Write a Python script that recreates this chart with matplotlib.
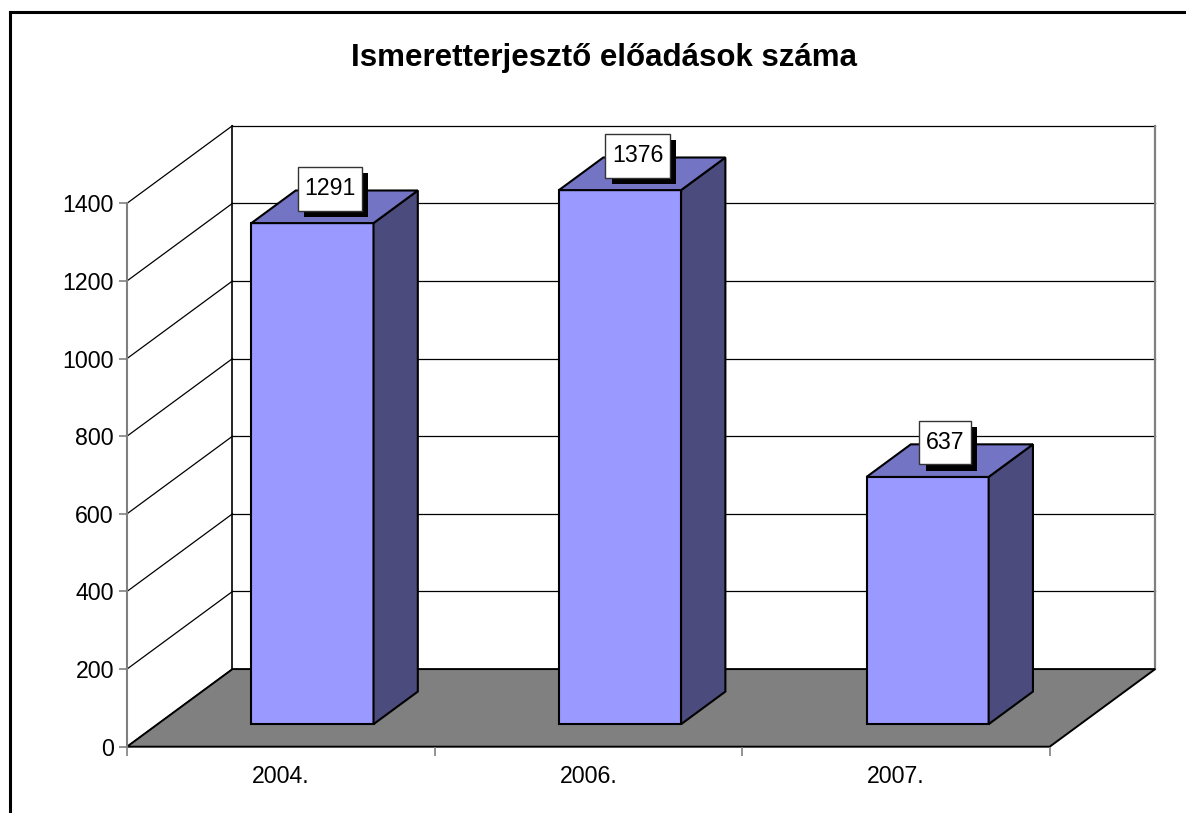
import matplotlib
matplotlib.use("Agg")
import matplotlib.pyplot as plt
from matplotlib.patches import Polygon
from matplotlib.lines import Line2D
import matplotlib.patheffects as pe

plt.rcParams['font.family'] = ['Liberation Sans', 'DejaVu Sans']

# data
years = ['2004.', '2006.', '2007.']
counts = [1291, 1376, 637]
y_ticks = [0, 200, 400, 600, 800, 1000, 1200, 1400]
title = 'Ismeretterjesztő előadások száma'

# 3d look (offset of the back plane in data units)
DX = 0.343
DY = 200
BAR_LEFT = 0.305
BAR_W = 0.397
D0, D1 = 0.29, 0.71
FRONT = '#9999FF'
SIDE = '#4B4B7E'
TOP = '#7474C4'


def proj(x, v, d):
    return (x + d * DX, v + d * DY)


fig = plt.figure(figsize=(11.86, 8.13), dpi=100)
ax = fig.add_axes([127 / 1186, (813 - 746.7) / 813, (1049.7 - 127) / 1186, (746.7 - 203.3) / 813])
n = len(years)
ymax = y_ticks[-1]
ax.set_xlim(0, n)
ax.set_ylim(0, ymax)

# floor
floor = Polygon([proj(0, 0, 0), proj(n, 0, 0), proj(n, 0, 1), proj(0, 0, 1)],
                closed=True, facecolor='#808080', edgecolor='black', lw=1.4,
                clip_on=False, zorder=1)
ax.add_patch(floor)

# back wall and side wall grid
for t in y_ticks[1:]:
    ax.plot(*zip(proj(0, t, 1), proj(n, t, 1)), color='black', lw=0.9, clip_on=False, zorder=0.5)
for t in y_ticks:
    ax.plot(*zip(proj(0, t, 0), proj(0, t, 1)), color='black', lw=0.9, clip_on=False, zorder=0.5)
ax.plot(*zip(proj(0, 0, 1), proj(0, ymax, 1)), color='black', lw=1.2, clip_on=False, zorder=0.6)
ax.plot(*zip(proj(n, 0, 1), proj(n, ymax, 1)), color='#808080', lw=1.6, clip_on=False, zorder=0.6)

# bars
for i, v in enumerate(counts):
    x0 = i + BAR_LEFT
    x1 = x0 + BAR_W
    front = [proj(x0, 0, D0), proj(x1, 0, D0), proj(x1, v, D0), proj(x0, v, D0)]
    side = [proj(x1, 0, D0), proj(x1, 0, D1), proj(x1, v, D1), proj(x1, v, D0)]
    top = [proj(x0, v, D0), proj(x1, v, D0), proj(x1, v, D1), proj(x0, v, D1)]
    for pts, c in ((front, FRONT), (side, SIDE), (top, TOP)):
        ax.add_patch(Polygon(pts, closed=True, facecolor=c, edgecolor='black',
                             lw=1.5, clip_on=False, zorder=3, joinstyle='miter'))
    cx, cy = proj(x0 + BAR_W / 2, v, 0.5)
    lab = ax.annotate(str(v), (cx, cy), xytext=(-3.4, 13), textcoords='offset points',
                      ha='center', va='center', fontsize=16.7, color='black', zorder=5,
                      annotation_clip=False,
                      bbox=dict(boxstyle='square,pad=0.28', mutation_aspect=1.6,
                                facecolor='white', edgecolor='#333333', lw=1))
    lab.get_bbox_patch().set_path_effects([
        pe.SimplePatchShadow(offset=(4.5, -4.5), shadow_rgbFace='black', alpha=1.0),
        pe.Normal()])

# axes
for s in ('top', 'right', 'bottom'):
    ax.spines[s].set_visible(False)
ax.spines['left'].set_color('#808080')
ax.spines['left'].set_linewidth(1.5)
ax.set_yticks(y_ticks)
ax.set_yticklabels([str(t) for t in y_ticks])
ax.tick_params(axis='y', length=6, width=1.2, color='#808080', pad=3.4, labelsize=16.7)
ax.set_xticks(range(n + 1))
ax.set_xticklabels([''] * (n + 1))
ax.set_xticks([i + 0.5 for i in range(n)], minor=True)
ax.set_xticklabels(years, minor=True)
ax.tick_params(axis='x', which='major', length=6.5, width=1.2, color='#808080')
ax.tick_params(axis='x', which='minor', length=0, pad=13, labelsize=16.7)
ax.patch.set_visible(False)

fig.text(604 / 1186, 1 - 58 / 813, title, ha='center', va='center',
         fontsize=22.5, fontweight='bold')

# chart border (runs off the right and bottom)
fig.add_artist(Line2D([10 / 1186, 10 / 1186], [0, 1 - 12.5 / 813], color='black', lw=2.2))
fig.add_artist(Line2D([10 / 1186, 1], [1 - 12.5 / 813, 1 - 12.5 / 813], color='black', lw=2.2))

fig.savefig('out.png', dpi=100, facecolor='white')
